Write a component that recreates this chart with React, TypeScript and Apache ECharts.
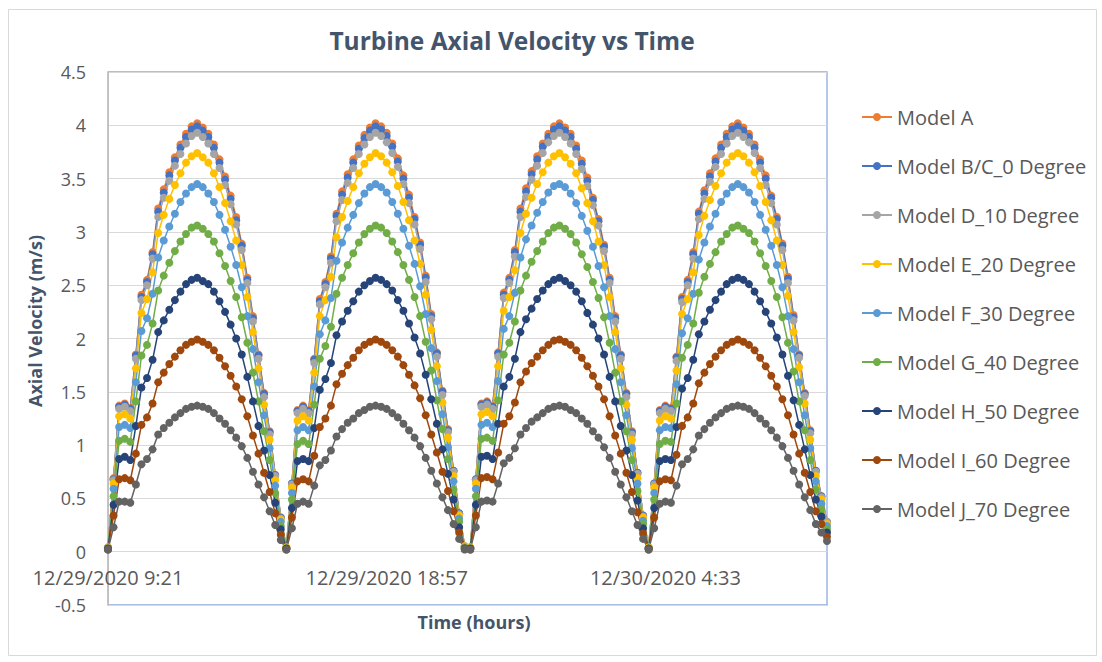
import { useEffect, useRef } from "react";
import * as echarts from "echarts";

// Sampling times: one reading every 11.52 minutes starting 12/29/2020 9:21
const START = new Date(2020, 11, 29, 9, 21);
const STEP_MINUTES = 11.52;
const POINT_COUNT = 130;
const formatTime = (d: Date) =>
  `${d.getMonth() + 1}/${d.getDate()}/${d.getFullYear()} ${d.getHours()}:${String(d.getMinutes()).padStart(2, "0")}`;
const TIMES: string[] = Array.from({ length: POINT_COUNT }, (_, i) =>
  formatTime(new Date(START.getTime() + Math.round(i * STEP_MINUTES * 60) * 1000))
);

const SERIES_NAMES = [
  "Model A",
  "Model B/C_0 Degree",
  "Model D_10 Degree",
  "Model E_20 Degree",
  "Model F_30 Degree",
  "Model G_40 Degree",
  "Model H_50 Degree",
  "Model I_60 Degree",
  "Model J_70 Degree",
];

const SERIES_COLORS = [
  "#ED7D31",
  "#4472C4",
  "#A5A5A5",
  "#FFC000",
  "#5B9BD5",
  "#70AD47",
  "#264478",
  "#9E480E",
  "#636363",
];

const MODEL_A = [
  0.04, 0.69, 1.37, 1.39, 1.35, 1.85, 2.41, 2.55, 2.81, 3.22,
  3.40, 3.56, 3.70, 3.82, 3.92, 3.99, 4.02, 3.98, 3.92, 3.82,
  3.68, 3.52, 3.34, 3.14, 2.89, 2.57, 2.21, 1.85, 1.49, 1.13,
  0.72, 0.32, 0.04, 0.64, 1.33, 1.37, 1.33, 1.81, 2.37, 2.53,
  2.77, 3.17, 3.38, 3.54, 3.68, 3.81, 3.91, 3.98, 4.02, 3.99,
  3.93, 3.83, 3.69, 3.53, 3.35, 3.14, 2.90, 2.59, 2.23, 1.87,
  1.51, 1.15, 0.76, 0.36, 0.05, 0.04, 0.68, 1.39, 1.41, 1.37,
  1.87, 2.43, 2.57, 2.83, 3.22, 3.41, 3.57, 3.71, 3.83, 3.92,
  3.99, 4.02, 3.98, 3.92, 3.81, 3.67, 3.51, 3.32, 3.12, 2.88,
  2.57, 2.21, 1.85, 1.49, 1.13, 0.74, 0.34, 0.04, 0.64, 1.33,
  1.37, 1.35, 1.83, 2.39, 2.55, 2.81, 3.19, 3.39, 3.55, 3.69,
  3.82, 3.92, 3.99, 4.02, 3.98, 3.92, 3.82, 3.68, 3.53, 3.34,
  3.14, 2.89, 2.58, 2.22, 1.85, 1.49, 1.14, 0.76, 0.52, 0.28,
];

const MODEL_B = [
  0.04, 0.68, 1.36, 1.38, 1.34, 1.84, 2.39, 2.53, 2.79, 3.19,
  3.37, 3.53, 3.67, 3.79, 3.89, 3.96, 3.99, 3.95, 3.89, 3.79,
  3.65, 3.49, 3.31, 3.11, 2.87, 2.55, 2.19, 1.84, 1.48, 1.12,
  0.72, 0.32, 0.04, 0.64, 1.32, 1.36, 1.32, 1.80, 2.35, 2.51,
  2.75, 3.15, 3.35, 3.51, 3.65, 3.78, 3.88, 3.95, 3.99, 3.96,
  3.90, 3.80, 3.66, 3.50, 3.32, 3.12, 2.88, 2.57, 2.21, 1.86,
  1.50, 1.14, 0.76, 0.36, 0.05, 0.04, 0.68, 1.38, 1.40, 1.36,
  1.86, 2.41, 2.55, 2.81, 3.19, 3.38, 3.54, 3.68, 3.80, 3.89,
  3.96, 3.99, 3.95, 3.89, 3.78, 3.64, 3.48, 3.30, 3.10, 2.86,
  2.55, 2.19, 1.84, 1.48, 1.12, 0.74, 0.34, 0.04, 0.64, 1.32,
  1.36, 1.34, 1.82, 2.37, 2.53, 2.79, 3.17, 3.36, 3.52, 3.66,
  3.79, 3.89, 3.96, 3.99, 3.95, 3.89, 3.79, 3.65, 3.50, 3.32,
  3.12, 2.87, 2.56, 2.20, 1.84, 1.48, 1.13, 0.76, 0.52, 0.28,
];

const MODEL_D = [
  0.04, 0.67, 1.34, 1.36, 1.32, 1.81, 2.36, 2.50, 2.75, 3.14,
  3.32, 3.48, 3.62, 3.73, 3.83, 3.90, 3.93, 3.89, 3.83, 3.73,
  3.60, 3.44, 3.26, 3.07, 2.83, 2.52, 2.16, 1.81, 1.45, 1.10,
  0.71, 0.31, 0.04, 0.63, 1.30, 1.34, 1.30, 1.77, 2.32, 2.48,
  2.71, 3.10, 3.30, 3.46, 3.60, 3.73, 3.82, 3.89, 3.93, 3.90,
  3.84, 3.74, 3.61, 3.45, 3.27, 3.07, 2.84, 2.53, 2.18, 1.83,
  1.47, 1.12, 0.75, 0.35, 0.05, 0.04, 0.67, 1.36, 1.38, 1.34,
  1.83, 2.38, 2.52, 2.77, 3.14, 3.33, 3.49, 3.62, 3.74, 3.84,
  3.90, 3.93, 3.89, 3.83, 3.73, 3.59, 3.43, 3.25, 3.06, 2.82,
  2.52, 2.16, 1.81, 1.45, 1.10, 0.73, 0.33, 0.04, 0.63, 1.30,
  1.34, 1.32, 1.79, 2.34, 2.50, 2.75, 3.12, 3.31, 3.47, 3.61,
  3.73, 3.83, 3.90, 3.93, 3.89, 3.84, 3.74, 3.60, 3.44, 3.27,
  3.07, 2.83, 2.52, 2.17, 1.82, 1.46, 1.11, 0.75, 0.51, 0.28,
];

const MODEL_E = [
  0.04, 0.64, 1.27, 1.29, 1.25, 1.72, 2.24, 2.37, 2.62, 2.99,
  3.16, 3.31, 3.44, 3.55, 3.65, 3.71, 3.74, 3.70, 3.65, 3.55,
  3.42, 3.27, 3.10, 2.92, 2.69, 2.39, 2.06, 1.72, 1.38, 1.05,
  0.67, 0.30, 0.04, 0.60, 1.23, 1.27, 1.23, 1.68, 2.21, 2.36,
  2.58, 2.95, 3.14, 3.29, 3.42, 3.55, 3.64, 3.70, 3.74, 3.71,
  3.65, 3.56, 3.43, 3.28, 3.11, 2.92, 2.70, 2.41, 2.08, 1.74,
  1.40, 1.07, 0.71, 0.34, 0.05, 0.04, 0.64, 1.29, 1.31, 1.27,
  1.74, 2.26, 2.39, 2.64, 2.99, 3.17, 3.32, 3.45, 3.56, 3.65,
  3.71, 3.74, 3.70, 3.64, 3.55, 3.41, 3.27, 3.10, 2.91, 2.69,
  2.39, 2.06, 1.72, 1.38, 1.05, 0.69, 0.32, 0.04, 0.60, 1.23,
  1.27, 1.25, 1.70, 2.23, 2.37, 2.62, 2.97, 3.15, 3.30, 3.43,
  3.55, 3.65, 3.71, 3.74, 3.71, 3.65, 3.56, 3.43, 3.28, 3.11,
  2.92, 2.69, 2.40, 2.06, 1.73, 1.39, 1.05, 0.71, 0.49, 0.26,
];

const MODEL_F = [
  0.03, 0.59, 1.17, 1.19, 1.16, 1.59, 2.07, 2.19, 2.42, 2.76,
  2.92, 3.05, 3.17, 3.28, 3.36, 3.42, 3.45, 3.42, 3.36, 3.28,
  3.16, 3.02, 2.86, 2.69, 2.48, 2.21, 1.90, 1.59, 1.28, 0.97,
  0.62, 0.28, 0.03, 0.55, 1.14, 1.17, 1.14, 1.55, 2.04, 2.17,
  2.38, 2.73, 2.90, 3.04, 3.16, 3.27, 3.36, 3.42, 3.45, 3.42,
  3.37, 3.28, 3.17, 3.03, 2.87, 2.70, 2.49, 2.23, 1.91, 1.60,
  1.29, 0.98, 0.66, 0.31, 0.04, 0.03, 0.59, 1.19, 1.21, 1.17,
  1.60, 2.09, 2.21, 2.43, 2.76, 2.93, 3.06, 3.18, 3.28, 3.37,
  3.43, 3.45, 3.42, 3.36, 3.27, 3.15, 3.01, 2.86, 2.68, 2.48,
  2.21, 1.90, 1.59, 1.28, 0.97, 0.64, 0.29, 0.03, 0.55, 1.14,
  1.17, 1.16, 1.57, 2.05, 2.19, 2.42, 2.74, 2.90, 3.05, 3.17,
  3.28, 3.36, 3.42, 3.45, 3.42, 3.37, 3.28, 3.16, 3.02, 2.87,
  2.69, 2.48, 2.21, 1.90, 1.59, 1.28, 0.97, 0.66, 0.45, 0.24,
];

const MODEL_G = [
  0.03, 0.52, 1.04, 1.06, 1.03, 1.41, 1.84, 1.94, 2.14, 2.45,
  2.59, 2.71, 2.82, 2.91, 2.98, 3.04, 3.06, 3.03, 2.98, 2.91,
  2.80, 2.68, 2.54, 2.39, 2.20, 1.96, 1.68, 1.41, 1.13, 0.86,
  0.55, 0.24, 0.03, 0.49, 1.01, 1.04, 1.01, 1.38, 1.81, 1.93,
  2.11, 2.42, 2.57, 2.69, 2.80, 2.90, 2.98, 3.03, 3.06, 3.04,
  2.99, 2.91, 2.81, 2.69, 2.55, 2.39, 2.21, 1.97, 1.70, 1.42,
  1.15, 0.87, 0.58, 0.28, 0.04, 0.03, 0.52, 1.06, 1.07, 1.04,
  1.42, 1.85, 1.96, 2.16, 2.45, 2.59, 2.72, 2.82, 2.91, 2.99,
  3.04, 3.06, 3.03, 2.98, 2.90, 2.79, 2.67, 2.53, 2.38, 2.20,
  1.96, 1.68, 1.41, 1.13, 0.86, 0.57, 0.26, 0.03, 0.49, 1.01,
  1.04, 1.03, 1.39, 1.82, 1.94, 2.14, 2.43, 2.58, 2.70, 2.81,
  2.91, 2.98, 3.04, 3.06, 3.03, 2.99, 2.91, 2.80, 2.68, 2.54,
  2.39, 2.20, 1.96, 1.69, 1.41, 1.14, 0.86, 0.58, 0.40, 0.21,
];

const MODEL_H = [
  0.03, 0.44, 0.87, 0.89, 0.86, 1.18, 1.54, 1.63, 1.80, 2.06,
  2.17, 2.27, 2.36, 2.44, 2.51, 2.55, 2.57, 2.54, 2.51, 2.44,
  2.35, 2.25, 2.13, 2.00, 1.85, 1.64, 1.41, 1.18, 0.95, 0.72,
  0.46, 0.21, 0.03, 0.41, 0.85, 0.87, 0.85, 1.16, 1.52, 1.62,
  1.77, 2.03, 2.16, 2.26, 2.35, 2.44, 2.50, 2.54, 2.57, 2.55,
  2.51, 2.45, 2.36, 2.26, 2.14, 2.01, 1.86, 1.66, 1.43, 1.20,
  0.96, 0.73, 0.49, 0.23, 0.03, 0.03, 0.44, 0.89, 0.90, 0.87,
  1.20, 1.55, 1.64, 1.81, 2.06, 2.18, 2.28, 2.37, 2.45, 2.51,
  2.55, 2.57, 2.54, 2.50, 2.44, 2.35, 2.24, 2.13, 2.00, 1.85,
  1.64, 1.41, 1.18, 0.95, 0.72, 0.48, 0.22, 0.03, 0.41, 0.85,
  0.87, 0.86, 1.17, 1.53, 1.63, 1.80, 2.04, 2.16, 2.27, 2.36,
  2.44, 2.51, 2.55, 2.57, 2.55, 2.51, 2.44, 2.35, 2.25, 2.14,
  2.01, 1.85, 1.65, 1.42, 1.19, 0.96, 0.72, 0.49, 0.33, 0.18,
];

const MODEL_I = [
  0.02, 0.34, 0.68, 0.69, 0.67, 0.92, 1.19, 1.26, 1.39, 1.59,
  1.68, 1.76, 1.83, 1.89, 1.94, 1.97, 1.99, 1.97, 1.94, 1.89,
  1.82, 1.74, 1.65, 1.55, 1.43, 1.27, 1.09, 0.92, 0.74, 0.56,
  0.36, 0.16, 0.02, 0.32, 0.66, 0.68, 0.66, 0.90, 1.17, 1.25,
  1.37, 1.57, 1.67, 1.75, 1.82, 1.89, 1.94, 1.97, 1.99, 1.97,
  1.94, 1.89, 1.83, 1.75, 1.66, 1.56, 1.44, 1.28, 1.10, 0.93,
  0.75, 0.57, 0.38, 0.18, 0.03, 0.02, 0.34, 0.69, 0.70, 0.68,
  0.93, 1.20, 1.27, 1.40, 1.59, 1.69, 1.77, 1.83, 1.89, 1.94,
  1.98, 1.99, 1.97, 1.94, 1.89, 1.82, 1.74, 1.65, 1.55, 1.43,
  1.27, 1.09, 0.92, 0.74, 0.56, 0.37, 0.17, 0.02, 0.32, 0.66,
  0.68, 0.67, 0.91, 1.18, 1.26, 1.39, 1.58, 1.68, 1.76, 1.83,
  1.89, 1.94, 1.97, 1.99, 1.97, 1.94, 1.89, 1.82, 1.74, 1.65,
  1.55, 1.43, 1.28, 1.10, 0.92, 0.74, 0.56, 0.38, 0.26, 0.14,
];

const MODEL_J = [
  0.02, 0.23, 0.47, 0.47, 0.46, 0.63, 0.82, 0.87, 0.96, 1.10,
  1.16, 1.21, 1.26, 1.30, 1.34, 1.36, 1.37, 1.36, 1.34, 1.30,
  1.25, 1.20, 1.14, 1.07, 0.99, 0.88, 0.75, 0.63, 0.51, 0.38,
  0.25, 0.11, 0.02, 0.22, 0.45, 0.47, 0.45, 0.62, 0.81, 0.86,
  0.95, 1.08, 1.15, 1.21, 1.25, 1.30, 1.33, 1.36, 1.37, 1.36,
  1.34, 1.30, 1.26, 1.20, 1.14, 1.07, 0.99, 0.88, 0.76, 0.64,
  0.51, 0.39, 0.26, 0.12, 0.02, 0.02, 0.23, 0.47, 0.48, 0.47,
  0.64, 0.83, 0.88, 0.97, 1.10, 1.16, 1.22, 1.26, 1.30, 1.34,
  1.36, 1.37, 1.36, 1.33, 1.30, 1.25, 1.20, 1.13, 1.07, 0.98,
  0.88, 0.75, 0.63, 0.51, 0.38, 0.25, 0.12, 0.02, 0.22, 0.45,
  0.47, 0.46, 0.62, 0.82, 0.87, 0.96, 1.09, 1.15, 1.21, 1.26,
  1.30, 1.34, 1.36, 1.37, 1.36, 1.34, 1.30, 1.25, 1.20, 1.14,
  1.07, 0.99, 0.88, 0.76, 0.63, 0.51, 0.39, 0.26, 0.18, 0.10,
];

const SERIES_VALUES = [MODEL_A, MODEL_B, MODEL_D, MODEL_E, MODEL_F, MODEL_G, MODEL_H, MODEL_I, MODEL_J];

const FONT = "'Open Sans', 'Noto Sans', sans-serif";

// Plot area geometry
const PLOT_TOP = 72;
const PLOT_HEIGHT = 533;
const Y_MIN = -0.5;
const Y_MAX = 4.5;
// The time axis crosses the vertical axis at zero
const ZERO_SHIFT = (PLOT_HEIGHT * (0 - Y_MIN)) / (Y_MAX - Y_MIN);

export default function App() {
  const ref = useRef<HTMLDivElement>(null);

  useEffect(() => {
    if (!ref.current) return;
    const chart = echarts.init(ref.current, undefined, { renderer: "svg" });

    const option: echarts.EChartsOption = {
      animation: false,
      backgroundColor: "#ffffff",
      textStyle: { fontFamily: FONT },
      grid: {
        left: 108,
        top: PLOT_TOP,
        width: 719,
        height: PLOT_HEIGHT,
        show: true,
        borderColor: "#8FAADC",
        borderWidth: 1.3,
        backgroundColor: "transparent",
      },
      legend: {
        orient: "vertical",
        left: 856,
        top: 102,
        itemWidth: 30,
        itemHeight: 10,
        itemGap: 29,
        data: SERIES_NAMES,
        textStyle: { fontSize: 20, color: "#595959", fontFamily: FONT, lineHeight: 20 },
      },
      xAxis: {
        type: "category",
        data: TIMES,
        boundaryGap: false,
        offset: -ZERO_SHIFT,
        axisLine: { onZero: false, lineStyle: { color: "#D9D9D9", width: 1 } },
        axisTick: { show: false },
        axisLabel: { interval: 49, fontSize: 20, color: "#595959", margin: 16, fontFamily: FONT },
        splitLine: { show: false },
      },
      yAxis: {
        type: "value",
        min: Y_MIN,
        max: Y_MAX,
        interval: 0.5,
        axisLine: { show: true, lineStyle: { color: "#BFBFBF", width: 1 } },
        axisTick: { show: false },
        axisLabel: { fontSize: 18, color: "#595959", margin: 22, fontFamily: FONT },
        splitLine: { lineStyle: { color: "#D9D9D9", width: 1 } },
      },
      series: SERIES_NAMES.map((name, k) => ({
        name,
        type: "line",
        data: SERIES_VALUES[k],
        symbol: "circle",
        symbolSize: 8,
        showAllSymbol: true,
        color: SERIES_COLORS[k],
        lineStyle: { width: 1.5, color: SERIES_COLORS[k] },
        itemStyle: { color: SERIES_COLORS[k] },
      })),
      graphic: [
        {
          type: "rect",
          silent: true,
          shape: { x: 8.5, y: 9.5, width: 1088, height: 646 },
          style: { fill: "none", stroke: "#D9D9D9", lineWidth: 1 },
        },
        {
          type: "text",
          x: 512,
          y: 40,
          style: {
            text: "Turbine Axial Velocity vs Time",
            align: "center",
            verticalAlign: "middle",
            fontSize: 24.5,
            fontWeight: "bold",
            fontFamily: FONT,
            fill: "#44546A",
          },
        },
        {
          type: "text",
          x: 35,
          y: 321,
          rotation: Math.PI / 2,
          style: {
            text: "Axial Velocity (m/s)",
            align: "center",
            verticalAlign: "middle",
            fontSize: 18,
            fontWeight: "bold",
            fontFamily: FONT,
            fill: "#44546A",
          },
        },
        {
          type: "text",
          x: 474,
          y: 622,
          style: {
            text: "Time (hours)",
            align: "center",
            verticalAlign: "middle",
            fontSize: 18,
            fontWeight: "bold",
            fontFamily: FONT,
            fill: "#44546A",
          },
        },
      ],
    };

    chart.setOption(option);
    return () => chart.dispose();
  }, []);

  return (
    <div
      ref={ref}
      style={{ position: "fixed", left: 0, top: 0, width: 1102, height: 662 }}
    />
  );
}
